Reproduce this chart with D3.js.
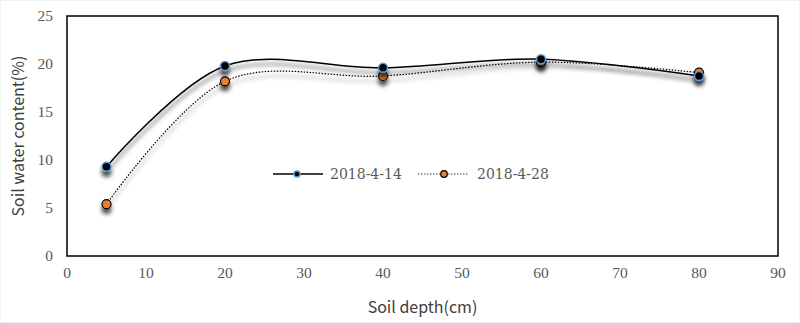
<!DOCTYPE html>
<html><head><meta charset="utf-8">
<script src="https://cdn.jsdelivr.net/npm/d3@7"></script>
<style>body{margin:0;background:#fff}svg{display:block}</style>
</head><body><svg id="c" width="800" height="323"></svg>
<script>
const depths = [5, 20, 40, 60, 80];
const s1Name = "2018-4-14";
const s1Values = [9.3, 19.8, 19.6, 20.5, 18.75];
const s2Name = "2018-4-28";
const s2Values = [5.4, 18.2, 18.75, 20.2, 19.1];
const xTicks = [0,10,20,30,40,50,60,70,80,90];
const yTicks = [0,5,10,15,20,25];

const svg = d3.select("#c");
const m = {l:67, r:778, t:16, b:256};
const x = d3.scaleLinear().domain([0,90]).range([m.l, m.r]);
const y = d3.scaleLinear().domain([0,25]).range([m.b, m.t]);

const defs = svg.append("defs");
const f = defs.append("filter").attr("id","sh").attr("x","-20%").attr("y","-20%").attr("width","140%").attr("height","160%");
f.append("feDropShadow").attr("dx",0).attr("dy",5).attr("stdDeviation",2.2).attr("flood-color","#000").attr("flood-opacity",0.7);

svg.append("rect").attr("x",0.5).attr("y",0.5).attr("width",799).attr("height",322).attr("fill","#fff").attr("stroke","#f2f2f2");

svg.append("rect").attr("x",m.l).attr("y",m.t).attr("width",m.r-m.l).attr("height",m.b-m.t)
  .attr("fill","none").attr("stroke","#000").attr("stroke-width",1.5);

const tickFont = "'Liberation Serif','DejaVu Serif',serif";
svg.append("g").selectAll("text").data(xTicks).join("text")
  .attr("x",d=>x(d)).attr("y",m.b+22).attr("text-anchor","middle")
  .attr("font-family",tickFont).attr("font-size",15.5).attr("fill","#595959").text(d=>d);
svg.append("g").selectAll("text").data(yTicks).join("text")
  .attr("x",m.l-14).attr("y",d=>y(d)+5).attr("text-anchor","end")
  .attr("font-family",tickFont).attr("font-size",15.5).attr("fill","#595959").text(d=>d);

const titleFont = "'Noto Sans CJK SC','Noto Sans',sans-serif";
svg.append("text").attr("x",(m.l+m.r)/2).attr("y",313).attr("text-anchor","middle")
  .attr("font-family",titleFont).attr("font-size",16).attr("fill","#404040").text("Soil depth(cm)");
svg.append("text").attr("transform",`translate(24,${(m.t+m.b)/2}) rotate(-90)`).attr("text-anchor","middle")
  .attr("font-family",titleFont).attr("font-size",16).attr("fill","#404040").text("Soil water content(%)");

const line = d3.line().x(d=>x(d[0])).y(d=>y(d[1])).curve(d3.curveCardinal.tension(0));
const d1 = depths.map((d,i)=>[d,s1Values[i]]);
const d2 = depths.map((d,i)=>[d,s2Values[i]]);

const g2 = svg.append("g").attr("filter","url(#sh)");
g2.append("path").attr("d",line(d2)).attr("fill","none").attr("stroke","#000").attr("stroke-width",1.2).attr("stroke-dasharray","1.5,1.5");
g2.selectAll("circle").data(d2).join("circle").attr("cx",d=>x(d[0])).attr("cy",d=>y(d[1])).attr("r",4.5)
  .attr("fill","#ed7d31").attr("stroke","#000").attr("stroke-width",1.2);

const g1 = svg.append("g").attr("filter","url(#sh)");
g1.append("path").attr("d",line(d1)).attr("fill","none").attr("stroke","#000").attr("stroke-width",1.5);
g1.selectAll("circle").data(d1).join("circle").attr("cx",d=>x(d[0])).attr("cy",d=>y(d[1])).attr("r",4.5)
  .attr("fill","#000").attr("stroke","#5b9bd5").attr("stroke-width",1.5);

// legend
const ly = 174;
const legFont = "'DejaVu Serif','Liberation Serif',serif";
const lg = svg.append("g");
lg.append("line").attr("x1",273).attr("x2",323).attr("y1",ly).attr("y2",ly).attr("stroke","#404040").attr("stroke-width",2);
lg.append("circle").attr("cx",297).attr("cy",ly).attr("r",3).attr("fill","#000").attr("stroke","#5b9bd5").attr("stroke-width",1.5);
lg.append("text").attr("x",330).attr("y",ly+5).attr("font-family",legFont).attr("font-size",14).attr("fill","#595959").text(s1Name);
lg.append("line").attr("x1",418).attr("x2",469).attr("y1",ly).attr("y2",ly).attr("stroke","#404040").attr("stroke-width",1.2).attr("stroke-dasharray","1.5,1.5");
lg.append("circle").attr("cx",444).attr("cy",ly).attr("r",3.3).attr("fill","#ed7d31").attr("stroke","#000").attr("stroke-width",1.2);
lg.append("text").attr("x",477).attr("y",ly+5).attr("font-family",legFont).attr("font-size",14).attr("fill","#595959").text(s2Name);
</script></body></html>
